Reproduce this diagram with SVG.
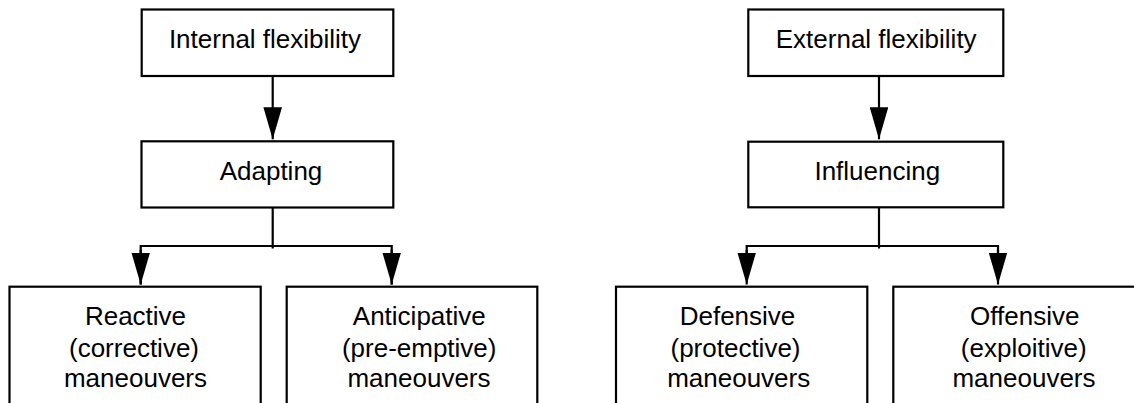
<svg xmlns="http://www.w3.org/2000/svg" width="1134" height="403" viewBox="0 0 1134 403">
  <style>
    .box { fill: #ffffff; stroke: #000000; stroke-width: 2.2; }
    .lbl { font-family: "Liberation Sans", Arial, sans-serif; font-size: 26px; fill: #000000; text-anchor: middle; }
    .wire { fill: none; stroke: #000000; stroke-width: 2.2; }
  </style>
  <defs>
    <marker id="arrow" viewBox="0 0 32 18.6" refX="32" refY="9.3" markerWidth="32" markerHeight="18.6" markerUnits="userSpaceOnUse" orient="auto">
      <path d="M0,0 L32,9.3 L0,18.6 Z" fill="#000000"/>
    </marker>
  </defs>
  <rect width="1134" height="403" fill="#ffffff"/>

  <!-- connectors -->
  <g id="connectors">
    <path class="wire" d="M272.7,76 V139.3" marker-end="url(#arrow)"/>
    <path class="wire" d="M272.7,207.5 V248.5"/>
    <path class="wire" d="M140.7,284.5 V246 H391.7 V284.5" />
    <path class="wire" d="M140.7,250 V284.5" marker-end="url(#arrow)"/>
    <path class="wire" d="M391.7,250 V284.5" marker-end="url(#arrow)"/>

    <path class="wire" d="M879,76 V139.3" marker-end="url(#arrow)"/>
    <path class="wire" d="M879,207.5 V248.5"/>
    <path class="wire" d="M746.7,253 V246 H998 V253"/>
    <path class="wire" d="M746.7,250 V284.5" marker-end="url(#arrow)"/>
    <path class="wire" d="M998,250 V284.5" marker-end="url(#arrow)"/>
  </g>

  <!-- internal flexibility branch -->
  <g id="internal-flexibility">
    <rect class="box" x="141.7" y="9.5" width="251.6" height="66.5"/>
    <text class="lbl" x="265" y="48.3">Internal flexibility</text>
  </g>
  <g id="adapting">
    <rect class="box" x="141.5" y="141.3" width="251.8" height="66.2"/>
    <text class="lbl" x="271" y="180.3">Adapting</text>
  </g>
  <g id="reactive">
    <rect class="box" x="9.5" y="286.7" width="251.2" height="140"/>
    <text class="lbl" x="135.5" y="324.5">Reactive</text>
    <text class="lbl" x="134" y="356.5">(corrective)</text>
    <text class="lbl" x="135.5" y="387.3">maneouvers</text>
  </g>
  <g id="anticipative">
    <rect class="box" x="286.7" y="286.7" width="250.6" height="140"/>
    <text class="lbl" x="419.3" y="324.5">Anticipative</text>
    <text class="lbl" x="419.2" y="356.5">(pre-emptive)</text>
    <text class="lbl" x="419" y="387.3">maneouvers</text>
  </g>

  <!-- external flexibility branch -->
  <g id="external-flexibility">
    <rect class="box" x="748.3" y="9.5" width="255" height="66.5"/>
    <text class="lbl" x="876.2" y="48.3">External flexibility</text>
  </g>
  <g id="influencing">
    <rect class="box" x="748.3" y="141.7" width="255" height="65.6"/>
    <text class="lbl" x="877.3" y="180.3">Influencing</text>
  </g>
  <g id="defensive">
    <rect class="box" x="616" y="286.7" width="251.3" height="140"/>
    <text class="lbl" x="737.5" y="324.5">Defensive</text>
    <text class="lbl" x="735.5" y="356.5">(protective)</text>
    <text class="lbl" x="738.7" y="387.3">maneouvers</text>
  </g>
  <g id="offensive">
    <rect class="box" x="893.3" y="286.7" width="252" height="140"/>
    <text class="lbl" x="1024.7" y="324.5">Offensive</text>
    <text class="lbl" x="1023.7" y="356.5">(exploitive)</text>
    <text class="lbl" x="1024" y="387.3">maneouvers</text>
  </g>
</svg>
